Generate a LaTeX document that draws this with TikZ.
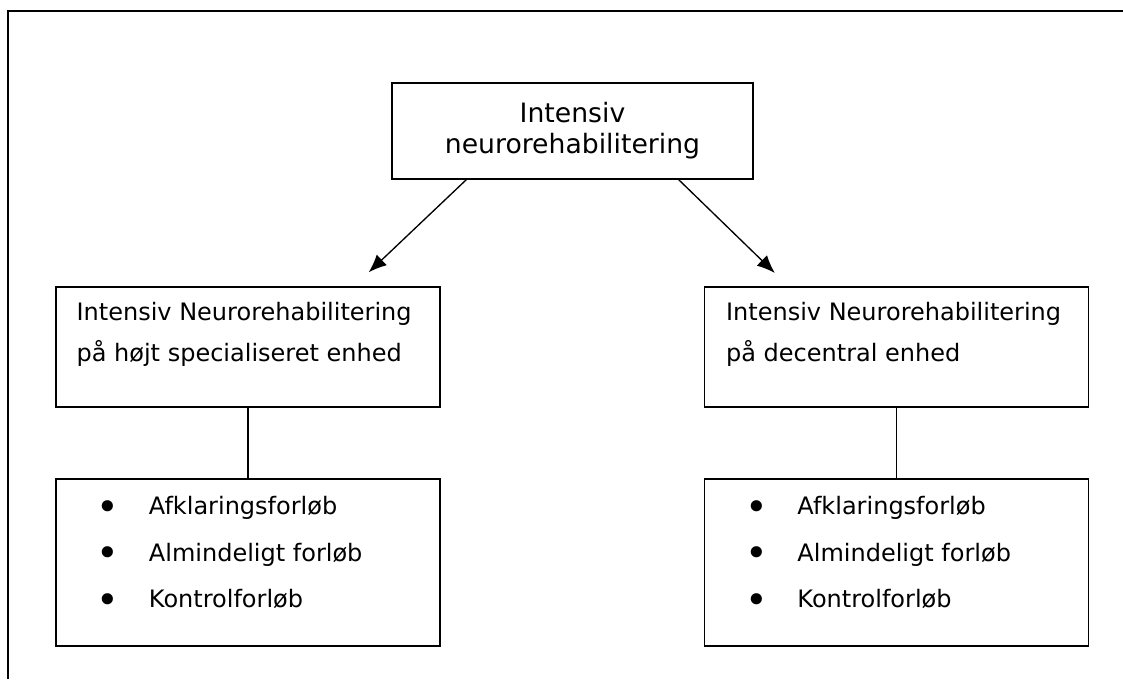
\documentclass[tikz,border=0pt]{standalone}
\usepackage{fontspec}
\setmainfont{DejaVu Sans}
\usetikzlibrary{arrows.meta}
\newcommand{\punkt}{\makebox[39pt][l]{\raisebox{-4pt}{\scalebox{1.6}{•}}}}

\begin{document}
\begin{tikzpicture}[x=0.75pt,y=-0.75pt,
    box/.style={draw,line width=1pt,rectangle,inner sep=0pt},
    boxtext/.style={inner sep=0pt,align=left,anchor=north west,font=\fontsize{18}{30.75}\selectfont},
    listtext/.style={inner sep=0pt,align=left,anchor=north west,font=\fontsize{18}{34.9}\selectfont},
    pil/.style={-{Latex[length=13.5pt,width=11pt]},line width=1pt}]
    \useasboundingbox (0,0) rectangle (1123,679);
    % ramme
    \coordinate (rammeTR) at (1123,11);
    \coordinate (rammeTL) at (8,11);
    \coordinate (rammeBL) at (8,679);
    \draw[line width=1.6pt] (rammeTR) -- (rammeTL) -- (rammeBL);

    \node[box,minimum width=270.75pt,minimum height=72pt,align=center,font=\fontsize{20}{23.25}\selectfont] (intensiv) at (572.5,131) {Intensiv\\neurorehabilitering};

    \node[box,minimum width=288pt,minimum height=90pt] (hoejt) at (248,347) {};
    \node[boxtext] (hoejttekst) at ([xshift=15.75pt,yshift=-11.9pt]hoejt.north west) {Intensiv Neurorehabilitering\\på højt specialiseret enhed};
    \node[box,minimum width=288pt,minimum height=90pt] (decentral) at (896.5,347) {};
    \node[boxtext] (decentraltekst) at ([xshift=16.5pt,yshift=-11.9pt]decentral.north west) {Intensiv Neurorehabilitering\\på decentral enhed};

    \node[box,minimum width=288pt,minimum height=125.25pt] (hoejtliste) at (248,562.5) {};
    \node[listtext] (hoejtpunkter) at ([xshift=31pt,yshift=-13.4pt]hoejtliste.north west) {\punkt Afklaringsforløb\\\punkt Almindeligt forløb\\\punkt Kontrolforløb};
    \node[box,minimum width=288pt,minimum height=125.25pt] (decentralliste) at (896.5,562.5) {};
    \node[listtext] (decentralpunkter) at ([xshift=31pt,yshift=-13.4pt]decentralliste.north west) {\punkt Afklaringsforløb\\\punkt Almindeligt forløb\\\punkt Kontrolforløb};

    \draw[pil] ([xshift=56.25pt]intensiv.south west) -- ([xshift=-54pt,yshift=10.5pt]hoejt.north east);
    \draw[pil] ([xshift=-56.25pt]intensiv.south east) -- ([xshift=53.25pt,yshift=10pt]decentral.north west);
    \draw[line width=1pt] (hoejt) -- (hoejtliste);
    \draw[line width=1pt] (decentral) -- (decentralliste);
\end{tikzpicture}
\end{document}
